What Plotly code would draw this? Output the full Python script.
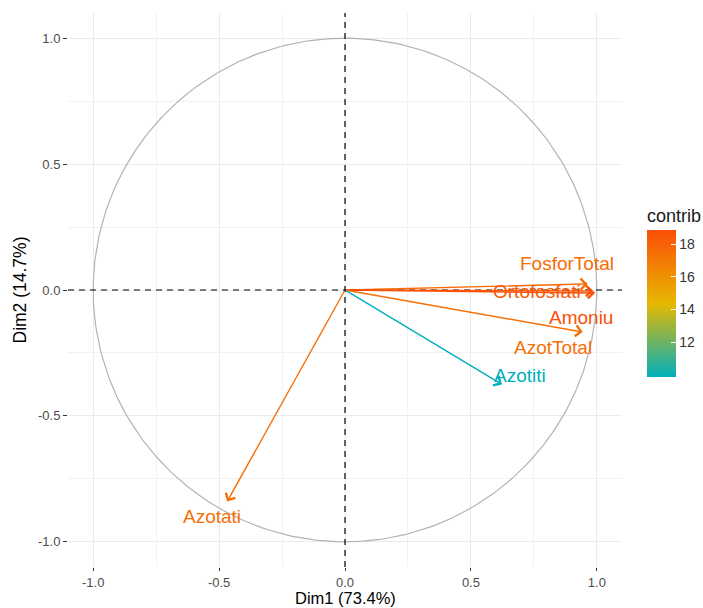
import numpy as np
import plotly.graph_objects as go
from plotly.colors import sample_colorscale

# ---- data ----
variables = ["FosforTotal", "Ortofosfati", "Amoniu", "AzotTotal", "Azotiti", "Azotati"]
dim1 = [0.964, 0.985, 0.993, 0.944, 0.623, -0.468]
dim2 = [0.024, -0.004, -0.012, -0.167, -0.375, -0.840]
contrib = [17.6, 18.4, 18.86, 17.4, 9.85, 17.5]
dim1_label = "Dim1 (73.4%)"
dim2_label = "Dim2 (14.7%)"
tick_vals = [-1.0, -0.5, 0.0, 0.5, 1.0]
tick_text = ["-1.0", "-0.5", "0.0", "0.5", "1.0"]

# label placement (repelled text positions, data units)
label_x = [0.881, 0.762, 0.939, 0.825, 0.694, -0.528]
label_y = [0.104, -0.004, -0.108, -0.227, -0.339, -0.901]

colorscale = [[0.0, "#00AFBB"], [0.5, "#E7B800"], [1.0, "#FC4E07"]]
cmin, cmax = min(contrib), max(contrib)
cols = sample_colorscale(colorscale, [(c - cmin) / (cmax - cmin) for c in contrib])

FONT = "Liberation Sans, Arial, Helvetica, sans-serif"

fig = go.Figure()

# correlation circle
t = np.linspace(0, 2 * np.pi, 361)
fig.add_trace(go.Scatter(x=np.cos(t), y=np.sin(t), mode="lines",
                         line=dict(color="#B3B3B3", width=1.2),
                         hoverinfo="skip", showlegend=False))

# dummy trace for colourbar
fig.add_trace(go.Scatter(
    x=dim1, y=dim2, mode="markers",
    marker=dict(color=contrib, colorscale=colorscale, cmin=cmin, cmax=cmax,
                size=1, opacity=0,
                colorbar=dict(
                    title=dict(text="contrib", side="top",
                               font=dict(size=18, color="#1a1a1a", family=FONT)),
                    thickness=29, len=172, lenmode="pixels",
                    x=1.045, xanchor="left", xpad=0,
                    y=0.498, yanchor="middle", ypad=0,
                    tickvals=[12, 14, 16, 18], ticks="inside", ticklen=5,
                    tickcolor="white", tickwidth=1,
                    tickfont=dict(size=14, color="#333333", family=FONT),
                    outlinewidth=0)),
    hoverinfo="skip", showlegend=False))

# reference dashed lines
fig.add_shape(type="line", x0=0, x1=0, y0=-1.1, y1=1.1, xref="x", yref="y",
              line=dict(color="black", width=1.2, dash="6px,5px"))
fig.add_shape(type="line", x0=-1.1, x1=1.1, y0=0, y1=0, xref="x", yref="y",
              line=dict(color="black", width=1.2, dash="6px,5px"))

# arrows
for xv, yv, c in zip(dim1, dim2, cols):
    fig.add_annotation(x=xv, y=yv, ax=0, ay=0, xref="x", yref="y",
                       axref="x", ayref="y", showarrow=True, text="",
                       arrowhead=4, arrowsize=1.5, arrowwidth=1.4,
                       arrowcolor=c, standoff=0)

# labels
for name, lx, ly, c in zip(variables, label_x, label_y, cols):
    fig.add_annotation(x=lx, y=ly, xref="x", yref="y", text=name,
                       showarrow=False, font=dict(size=19, color=c, family=FONT))

# x-axis title (as annotation so it sits at the bottom edge under the tick labels)
fig.add_annotation(x=0.5, y=0, xref="paper", yref="paper", text=dim1_label,
                   showarrow=False, xanchor="center", yanchor="bottom", yshift=-41,
                   borderpad=0, font=dict(size=16.5, color="black", family=FONT))

axis_common = dict(
    tickvals=tick_vals, ticktext=tick_text,
    showgrid=True, gridcolor="#EBEBEB", gridwidth=1,
    minor=dict(dtick=0.25, showgrid=True, gridcolor="#F2F2F2", gridwidth=0.7),
    zeroline=False, showline=False, automargin=False,
    ticks="outside", ticklen=4, tickcolor="#333333", tickwidth=1.2,
    tickfont=dict(size=13, color="#4D4D4D", family=FONT),
)

fig.update_xaxes(range=[-1.1, 1.1], **axis_common)
fig.update_xaxes(ticklen=3)
fig.update_yaxes(range=[-1.1, 1.1], title=dict(text=dim2_label, standoff=6,
                 font=dict(size=17.5, color="black", family=FONT)), **axis_common)

fig.update_layout(
    width=703, height=608,
    margin=dict(l=68, r=81, t=13, b=41, autoexpand=False),
    paper_bgcolor="white", plot_bgcolor="white",
    font=dict(family=FONT),
    showlegend=False,
)

fig.write_html("out.html")
